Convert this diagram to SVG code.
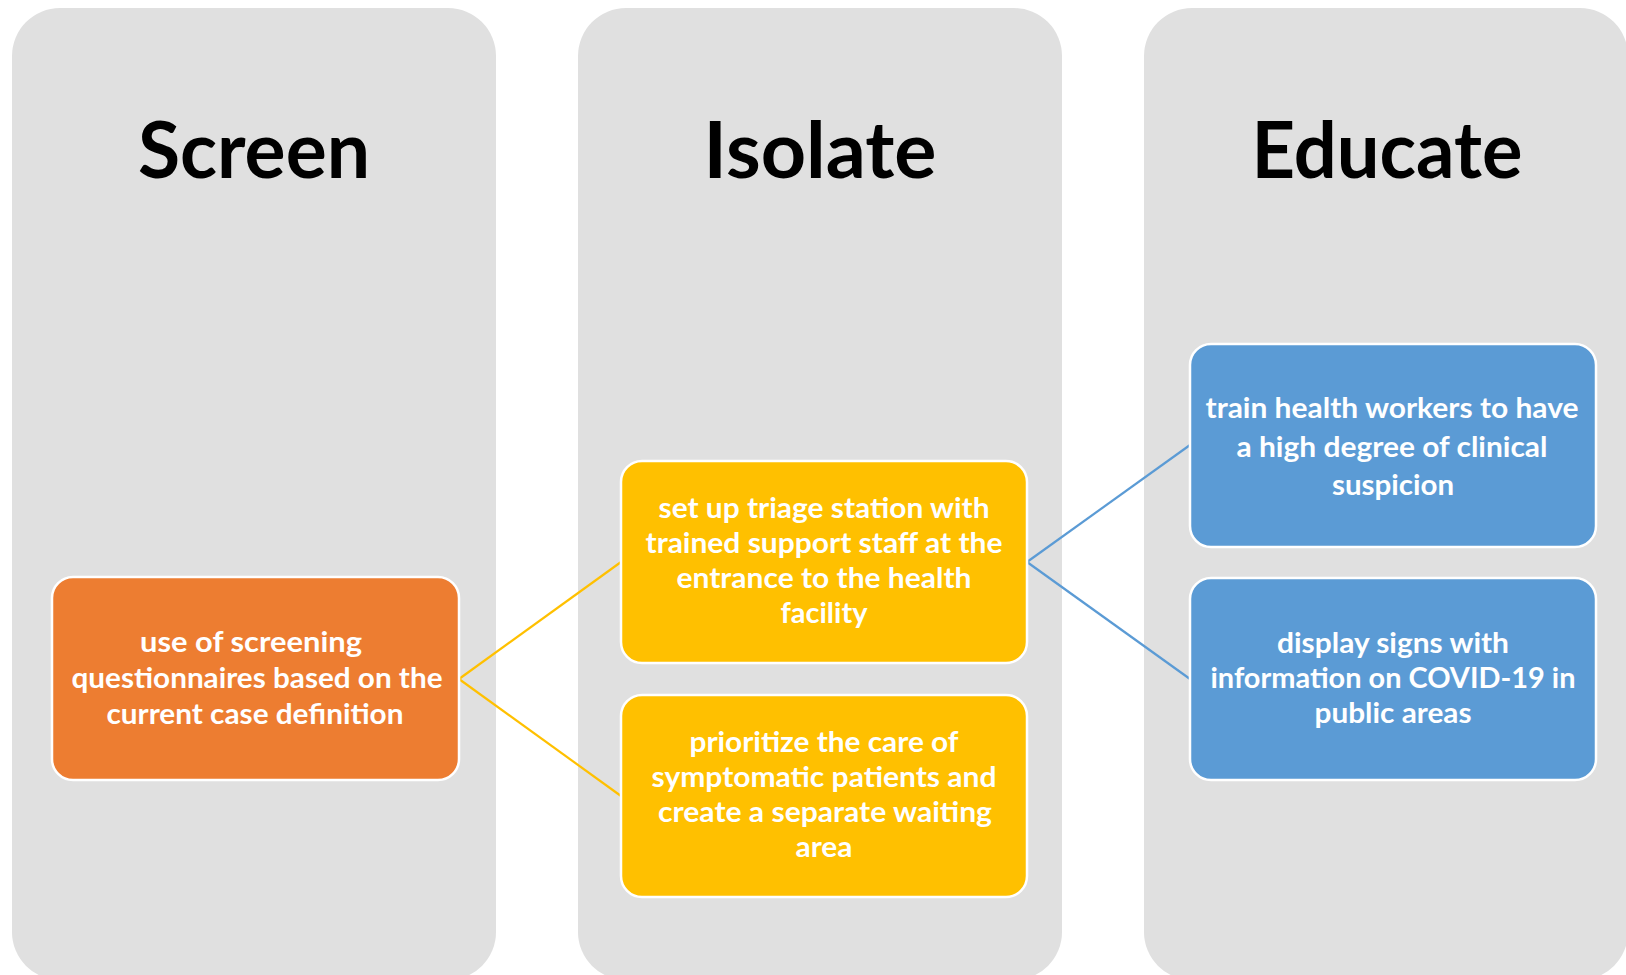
<svg xmlns="http://www.w3.org/2000/svg" width="1626" height="975" viewBox="0 0 1626 975">
  <style>
    .col { fill: #E0E0E0; }
    .title { font-family: Lato, "Open Sans", "Liberation Sans", sans-serif; font-weight: 700; font-size: 78px; fill: #000000; text-anchor: middle; }
    .box { stroke: #FFFFFF; stroke-width: 2.5; }
    .orange { fill: #ED7D31; }
    .yellow { fill: #FFC000; }
    .blue { fill: #5B9BD5; }
    .label { font-family: Lato, "Open Sans", "Liberation Sans", sans-serif; font-weight: 700; font-size: 28px; fill: #FFFFFF; text-anchor: middle; }
    .link { fill: none; stroke-width: 2.2; }
    .link-y { stroke: #FFC000; }
    .link-b { stroke: #5B9BD5; }
  </style>

  <rect width="1626" height="975" fill="#FFFFFF"/>

  <!-- column panels -->
  <g id="col-screen">
    <rect class="col" x="12" y="8" width="484" height="972" rx="48" ry="48"/>
    <text class="title" x="254" y="178" textLength="232" lengthAdjust="spacingAndGlyphs">Screen</text>
  </g>
  <g id="col-isolate">
    <rect class="col" x="578" y="8" width="484" height="972" rx="48" ry="48"/>
    <text class="title" x="820" y="178" textLength="233" lengthAdjust="spacingAndGlyphs">Isolate</text>
  </g>
  <g id="col-educate">
    <rect class="col" x="1144" y="8" width="484" height="972" rx="48" ry="48"/>
    <text class="title" x="1387" y="178" textLength="271" lengthAdjust="spacingAndGlyphs">Educate</text>
  </g>

  <!-- connectors -->
  <g id="connectors">
    <line class="link link-y" x1="459" y1="679" x2="621" y2="562"/>
    <line class="link link-y" x1="459" y1="679" x2="621" y2="796"/>
    <line class="link link-b" x1="1027" y1="562" x2="1190" y2="445"/>
    <line class="link link-b" x1="1027" y1="562" x2="1190" y2="679"/>
  </g>

  <!-- task nodes -->
  <g id="node-screening">
    <rect class="box orange" x="52" y="577" width="407" height="203" rx="21" ry="21"/>
    <text class="label" x="251" y="652" textLength="222" lengthAdjust="spacingAndGlyphs">use of screening</text>
    <text class="label" x="257" y="688" textLength="371" lengthAdjust="spacingAndGlyphs">questionnaires based on the</text>
    <text class="label" x="255" y="724" textLength="297" lengthAdjust="spacingAndGlyphs">current case definition</text>
  </g>

  <g id="node-triage">
    <rect class="box yellow" x="621" y="461" width="406" height="202" rx="21" ry="21"/>
    <text class="label" x="824" y="518" textLength="331" lengthAdjust="spacingAndGlyphs">set up triage station with</text>
    <text class="label" x="824" y="553" textLength="357" lengthAdjust="spacingAndGlyphs">trained support staff at the</text>
    <text class="label" x="824" y="588" textLength="295" lengthAdjust="spacingAndGlyphs">entrance to the health</text>
    <text class="label" x="824" y="623" textLength="87" lengthAdjust="spacingAndGlyphs">facility</text>
  </g>

  <g id="node-prioritize">
    <rect class="box yellow" x="621" y="695" width="406" height="202" rx="21" ry="21"/>
    <text class="label" x="824" y="752" textLength="269" lengthAdjust="spacingAndGlyphs">prioritize the care of</text>
    <text class="label" x="824" y="787" textLength="345" lengthAdjust="spacingAndGlyphs">symptomatic patients and</text>
    <text class="label" x="825" y="822" textLength="334" lengthAdjust="spacingAndGlyphs">create a separate waiting</text>
    <text class="label" x="824" y="857" textLength="57" lengthAdjust="spacingAndGlyphs">area</text>
  </g>

  <g id="node-train">
    <rect class="box blue" x="1190" y="344" width="406" height="203" rx="21" ry="21"/>
    <text class="label" x="1392" y="418" textLength="373" lengthAdjust="spacingAndGlyphs">train health workers to have</text>
    <text class="label" x="1392" y="457" textLength="311" lengthAdjust="spacingAndGlyphs">a high degree of clinical</text>
    <text class="label" x="1393" y="495" textLength="122" lengthAdjust="spacingAndGlyphs">suspicion</text>
  </g>

  <g id="node-signs">
    <rect class="box blue" x="1190" y="578" width="406" height="202" rx="21" ry="21"/>
    <text class="label" x="1393" y="653" textLength="232" lengthAdjust="spacingAndGlyphs">display signs with</text>
    <text class="label" x="1393" y="688" textLength="365" lengthAdjust="spacingAndGlyphs">information on COVID-19 in</text>
    <text class="label" x="1393" y="723" textLength="157" lengthAdjust="spacingAndGlyphs">public areas</text>
  </g>
</svg>
